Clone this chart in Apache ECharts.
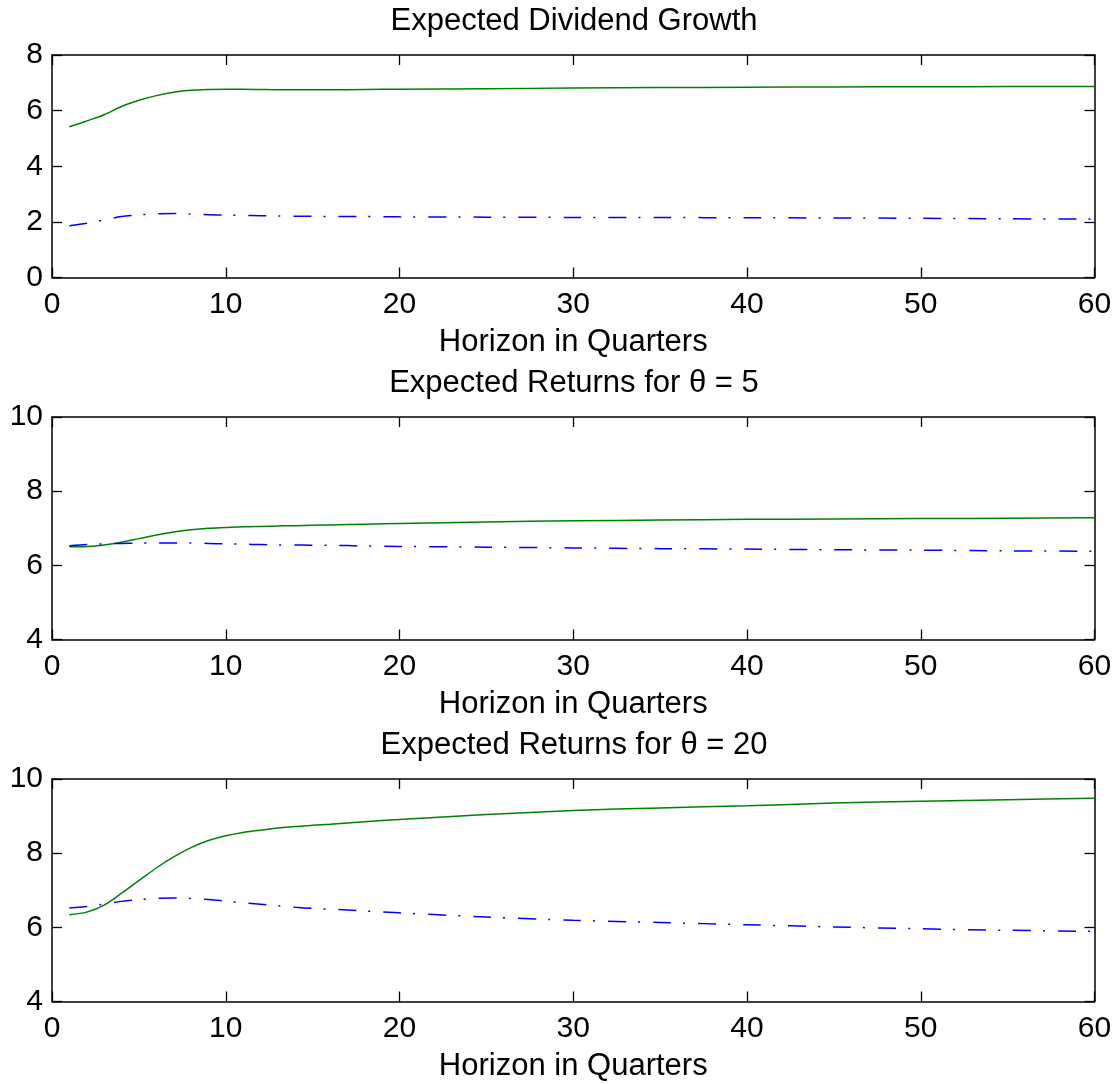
<!DOCTYPE html>
<html>
<head>
<meta charset="utf-8">
<script src="https://cdn.jsdelivr.net/npm/echarts@6/dist/echarts.min.js"></script>
<style>
html,body{margin:0;padding:0;background:#fff;}
#c{width:1120px;height:1084px;}
</style>
</head>
<body>
<div id="c"></div>
<script>
// ---- data ----
const horizons = [1,2,3,4,5,6,7,8,9,10,11,12,13,14,15,16,18,20,25,30,35,40,45,50,55,60];

const titles = ['Expected Dividend Growth', 'Expected Returns for \u03b8 = 5', 'Expected Returns for \u03b8 = 20'];
const xAxisName = 'Horizon in Quarters';

const divGrowthSolid = [5.42,5.63,5.85,6.15,6.37,6.54,6.66,6.73,6.76,6.77,6.77,6.76,6.75,6.75,6.75,6.75,6.76,6.77,6.79,6.81,6.83,6.84,6.85,6.86,6.865,6.87];
const divGrowthDash  = [1.86,1.95,2.07,2.19,2.25,2.29,2.30,2.28,2.26,2.24,2.23,2.22,2.21,2.20,2.20,2.19,2.19,2.18,2.17,2.16,2.155,2.15,2.14,2.13,2.11,2.10];

const ret5Solid = [6.50,6.51,6.55,6.62,6.72,6.82,6.90,6.96,7.00,7.02,7.04,7.05,7.06,7.07,7.08,7.09,7.11,7.13,7.17,7.20,7.22,7.24,7.25,7.26,7.27,7.28];
const ret5Dash  = [6.53,6.56,6.58,6.59,6.60,6.60,6.60,6.60,6.59,6.58,6.57,6.56,6.55,6.55,6.54,6.54,6.52,6.51,6.49,6.47,6.45,6.44,6.42,6.41,6.39,6.38];

const ret20Solid = [6.34,6.41,6.60,6.92,7.26,7.60,7.90,8.15,8.34,8.47,8.56,8.62,8.68,8.72,8.75,8.78,8.85,8.91,9.04,9.15,9.22,9.28,9.35,9.40,9.44,9.48];
const ret20Dash  = [6.52,6.56,6.63,6.70,6.75,6.78,6.79,6.78,6.75,6.71,6.66,6.62,6.58,6.54,6.51,6.49,6.44,6.39,6.28,6.19,6.13,6.07,6.01,5.96,5.92,5.89];

const yRanges = [[0,8],[4,10],[4,10]];
const xTicks = [0,60,10];

// ---- chart ----
const FONT = 'Liberation Sans, Arial, sans-serif';
const solids = [divGrowthSolid, ret5Solid, ret20Solid];
const dashes = [divGrowthDash, ret5Dash, ret20Dash];
const gridTops = [55, 417, 779];
const gridH = 222.5;

const grids = [], xAxes = [], yAxes = [], series = [], graphics = [];
const lineCol = '#000';
for (let i = 0; i < 3; i++) {
  grids.push({left: 52, right: 25.5, top: gridTops[i], height: gridH, containLabel: false});
  const common = {
    gridIndex: i, type: 'value', min: xTicks[0], max: xTicks[1], interval: xTicks[2],
    axisLine: {show: true, onZero: false, lineStyle: {color: lineCol, width: 1.5}},
    axisTick: {show: true, inside: true, length: 10, lineStyle: {color: lineCol, width: 1.3}},
    splitLine: {show: false}
  };
  xAxes.push(Object.assign({}, common, {
    position: 'bottom',
    name: xAxisName, nameLocation: 'middle', nameGap: 49.5,
    nameTextStyle: {fontFamily: FONT, fontSize: 31, color: '#000'},
    axisLabel: {show: true, margin: 12.5, fontFamily: FONT, fontSize: 30, color: '#000'}
  }));
  xAxes.push(Object.assign({}, common, {position: 'top', axisLabel: {show: false}}));
  const yc = {
    gridIndex: i, type: 'value', min: yRanges[i][0], max: yRanges[i][1], interval: 2,
    axisLine: {show: true, onZero: false, lineStyle: {color: lineCol, width: 1.5}},
    axisTick: {show: true, inside: true, length: 10, lineStyle: {color: lineCol, width: 1.3}},
    splitLine: {show: false}
  };
  yAxes.push(Object.assign({}, yc, {
    position: 'left',
    axisLabel: {show: true, margin: 9, fontFamily: FONT, fontSize: 30, color: '#000'}
  }));
  yAxes.push(Object.assign({}, yc, {position: 'right', axisLabel: {show: false}}));

  series.push({
    type: 'line', xAxisIndex: 2*i, yAxisIndex: 2*i,
    data: horizons.map((h, k) => [h, solids[i][k]]),
    showSymbol: false, symbol: 'none', smooth: 0.3,
    lineStyle: {color: '#008000', width: 1.5},
    silent: true, animation: false
  });
  series.push({
    type: 'line', xAxisIndex: 2*i, yAxisIndex: 2*i,
    data: horizons.map((h, k) => [h, dashes[i][k]]),
    showSymbol: false, symbol: 'none', smooth: 0.3,
    lineStyle: {color: '#0000ff', width: 1.5, type: [18, 12, 2, 13]},
    silent: true, animation: false
  });
  graphics.push({
    type: 'text', x: 574, y: gridTops[i] - 34,
    style: {text: titles[i], font: '31px ' + FONT, fill: '#000', align: 'center', verticalAlign: 'middle', textAlign: 'center', textVerticalAlign: 'middle'}
  });
}

const chart = echarts.init(document.getElementById('c'), null, {renderer: 'canvas'});
chart.setOption({
  animation: false,
  backgroundColor: '#fff',
  grid: grids, xAxis: xAxes, yAxis: yAxes, series: series, graphic: graphics
});
</script>
</body>
</html>
